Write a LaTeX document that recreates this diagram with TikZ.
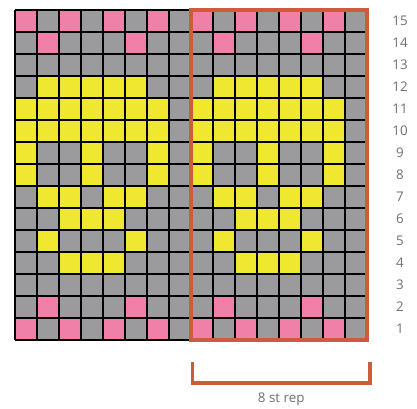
\documentclass[tikz,border=0pt]{standalone}
\usepackage{fontspec}
\newfontfamily\chartfont{Open Sans}
\usetikzlibrary{positioning}
\definecolor{stitchP}{RGB}{240,128,168}
\definecolor{stitchG}{RGB}{155,155,158}
\definecolor{stitchY}{RGB}{240,232,48}
\definecolor{repred}{RGB}{208,90,64}
\definecolor{labelgray}{RGB}{110,110,110}

\begin{document}
\begin{tikzpicture}[x=16.5pt, y=16.5pt,
  gridline/.style={draw=black, line width=1.2pt},
  rowlabel/.style={font=\chartfont\fontsize{10}{11}\selectfont, text=labelgray, inner sep=0pt},
  repbox/.style={draw=repred, line width=2.4pt},
  repbrace/.style={draw=repred, line width=2.4pt, line cap=butt}]
  \useasboundingbox (-15/22, -68/22) rectangle (402/22, 340/22);

  % rows listed from 1 (bottom) to 15 (top), one 8-stitch repeat each
  \foreach \pat [count=\r] in {
      {P,G,P,G,P,G,P,G},
      {G,P,G,G,G,P,G,G},
      {G,G,G,G,G,G,G,G},
      {G,G,Y,Y,Y,G,G,G},
      {G,Y,G,G,G,Y,G,G},
      {G,G,Y,Y,Y,G,G,G},
      {G,Y,Y,G,Y,Y,G,G},
      {Y,G,G,Y,G,G,Y,G},
      {Y,G,G,Y,G,G,Y,G},
      {Y,Y,Y,Y,Y,Y,Y,G},
      {Y,Y,Y,Y,Y,Y,Y,G},
      {G,Y,Y,Y,Y,Y,G,G},
      {G,G,G,G,G,G,G,G},
      {G,P,G,G,G,P,G,G},
      {P,G,P,G,P,G,P,G}} {
    \foreach \c [count=\i from 0] in \pat {
      \foreach \k in {0,8}
        \fill[stitch\c] (\i+\k, \r-1) rectangle +(1,1);
    }
    \node[rowlabel] (row\r) at (17.5, \r-0.5) {\r};
  }
  \draw[gridline] (0,0) grid[step=1] (16,15);
  \draw[repbox] (8,0) rectangle (16,15);

  % repeat bracket
  \coordinate (repTL) at (8.05,-1.0);
  \coordinate (repBL) at (8.05,-1.95);
  \coordinate (repBR) at (16.14,-1.95);
  \coordinate (repTR) at (16.14,-1.0);
  \draw[repbrace] (repTL) -- (repBL) -- (repBR) -- (repTR);
  \node[rowlabel] (rep) at (12.1,-2.68) {8 st rep};
\end{tikzpicture}
\end{document}
